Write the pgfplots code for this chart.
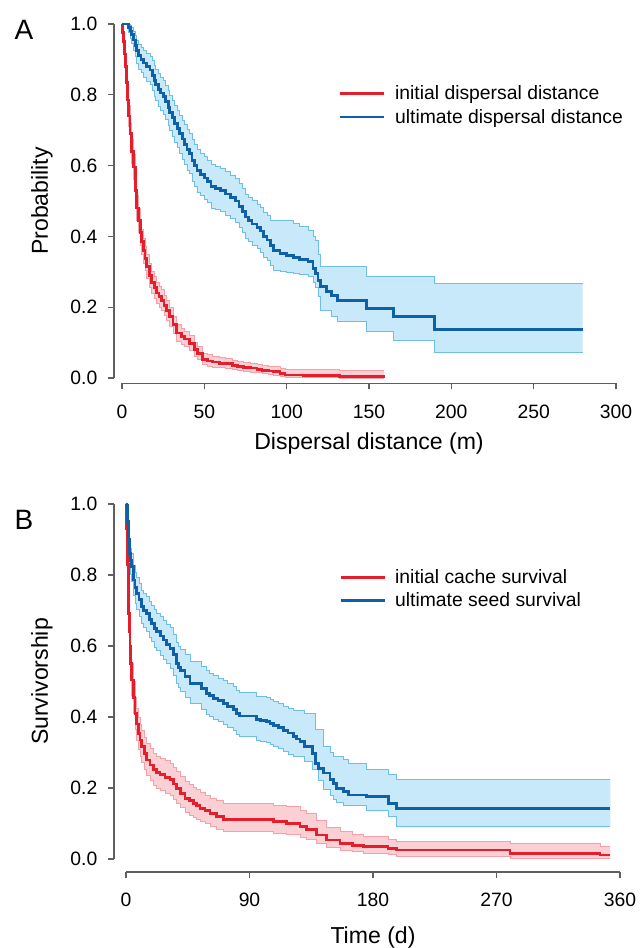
\documentclass[border=0pt]{standalone}
\usepackage{fontspec}
\setmainfont{Liberation Sans}
\usepackage{pgfplots}
\pgfplotsset{compat=1.18}
\usepackage{pgfplotstable}
\usepgfplotslibrary{fillbetween}

\definecolor{kmred}{RGB}{228,30,43}
\definecolor{kmredfill}{RGB}{250,208,213}
\definecolor{kmrededge}{RGB}{246,160,170}
\definecolor{kmblue}{RGB}{16,96,168}
\definecolor{kmbluefill}{RGB}{200,233,249}
\definecolor{kmblueedge}{RGB}{110,190,230}
\definecolor{axgray}{RGB}{95,95,95}

% panel A: initial dispersal distance
\pgfplotstableread{
x y lo hi
0 1.000 1.000 1.000
0.5 0.975 0.960 0.990
1 0.950 0.930 0.965
1.5 0.915 0.890 0.935
2 0.880 0.855 0.905
2.5 0.835 0.805 0.860
3.2 0.785 0.755 0.815
4 0.740 0.710 0.770
4.9 0.690 0.655 0.720
5.8 0.640 0.605 0.675
6.9 0.596 0.560 0.632
8 0.530 0.495 0.566
9 0.480 0.445 0.516
10 0.445 0.410 0.480
11 0.410 0.375 0.445
12 0.385 0.350 0.420
13 0.360 0.325 0.395
14 0.337 0.303 0.372
15 0.314 0.280 0.348
16.5 0.290 0.257 0.323
18 0.270 0.238 0.302
19.5 0.255 0.224 0.286
21 0.240 0.210 0.270
22.5 0.230 0.200 0.260
24 0.220 0.190 0.250
25.5 0.205 0.176 0.234
27 0.190 0.162 0.218
29 0.173 0.146 0.200
31 0.150 0.125 0.175
33 0.127 0.104 0.150
36 0.118 0.096 0.141
38 0.110 0.089 0.132
41 0.098 0.078 0.119
44 0.080 0.062 0.100
46 0.070 0.053 0.089
49 0.052 0.037 0.070
52 0.048 0.034 0.066
55 0.045 0.031 0.062
59 0.042 0.029 0.058
63 0.040 0.027 0.055
67 0.036 0.024 0.051
70 0.033 0.021 0.048
74 0.030 0.019 0.044
78 0.028 0.017 0.042
82 0.025 0.015 0.039
85 0.022 0.012 0.036
89 0.020 0.010 0.034
92 0.018 0.008 0.032
96 0.013 0.005 0.028
99 0.0085 0.003 0.025
110 0.007 0.002 0.024
120 0.006 0.001 0.023
132 0.004 0.000 0.022
159 0.002 0.000 0.022
}\redA

% panel A: ultimate dispersal distance
\pgfplotstableread{
x y lo hi
0 1.000 1.000 1.000
3.8 0.990 0.975 1.000
5 0.980 0.960 0.995
6 0.970 0.945 0.990
7 0.955 0.925 0.980
8 0.940 0.908 0.968
8.9 0.925 0.890 0.955
10 0.910 0.873 0.943
11.5 0.900 0.862 0.935
13 0.890 0.850 0.926
15 0.880 0.839 0.918
17 0.870 0.828 0.909
18.5 0.855 0.811 0.896
19.5 0.840 0.795 0.882
20.5 0.830 0.784 0.873
22 0.815 0.768 0.859
23.5 0.805 0.757 0.850
25 0.795 0.746 0.841
26.5 0.780 0.730 0.827
28 0.765 0.714 0.813
29 0.750 0.698 0.799
30.5 0.735 0.682 0.785
32 0.720 0.666 0.771
33.5 0.705 0.650 0.757
35 0.690 0.634 0.743
36.5 0.675 0.618 0.729
38 0.660 0.603 0.715
39.5 0.645 0.587 0.701
41 0.635 0.577 0.692
42.5 0.615 0.556 0.673
44 0.600 0.541 0.659
45.5 0.585 0.525 0.645
47.5 0.575 0.515 0.635
50 0.565 0.505 0.626
52 0.555 0.495 0.616
54 0.540 0.480 0.602
57 0.535 0.475 0.597
60 0.530 0.470 0.592
63 0.520 0.460 0.583
66 0.510 0.450 0.573
69 0.500 0.440 0.564
71 0.485 0.425 0.550
73 0.470 0.410 0.535
75 0.455 0.395 0.520
77 0.445 0.385 0.511
79 0.435 0.375 0.501
82 0.425 0.365 0.491
84 0.415 0.356 0.482
86 0.400 0.341 0.468
88 0.390 0.331 0.458
90 0.375 0.317 0.446
92 0.360 0.303 0.446
96 0.352 0.300 0.446
100 0.347 0.298 0.446
104 0.340 0.296 0.436
108 0.335 0.292 0.427
113 0.330 0.286 0.418
116 0.310 0.270 0.400
117.5 0.295 0.255 0.390
119 0.275 0.230 0.350
120.5 0.258 0.192 0.314
124 0.245 0.192 0.314
127 0.234 0.175 0.314
131 0.220 0.159 0.314
148.6 0.197 0.131 0.286
164.8 0.173 0.107 0.286
190 0.1375 0.0715 0.267
279.8 0.1375 0.0715 0.267
}\blueA

% panel B: initial cache survival
\pgfplotstableread{
x y lo hi
0 1.000 1.000 1.000
0.5 0.930 0.900 0.955
1 0.830 0.790 0.865
1.7 0.692 0.650 0.735
2.3 0.640 0.595 0.685
2.9 0.598 0.553 0.643
3.5 0.550 0.505 0.595
4.1 0.504 0.460 0.550
5.3 0.455 0.410 0.500
6.6 0.410 0.365 0.455
7.8 0.380 0.335 0.425
9 0.354 0.310 0.400
10.2 0.335 0.290 0.380
11.4 0.316 0.272 0.362
13.3 0.297 0.253 0.343
15.1 0.279 0.235 0.325
17.5 0.265 0.220 0.312
19.9 0.251 0.207 0.298
22.3 0.244 0.200 0.290
24.8 0.237 0.193 0.284
28.4 0.230 0.186 0.277
32 0.223 0.180 0.270
34.5 0.211 0.168 0.258
36.9 0.199 0.157 0.246
40 0.185 0.144 0.232
43 0.171 0.131 0.218
46 0.164 0.124 0.210
49 0.157 0.118 0.202
51.5 0.150 0.111 0.195
53.9 0.143 0.105 0.188
57.5 0.136 0.099 0.180
61.2 0.129 0.092 0.172
66 0.120 0.084 0.164
70.9 0.112 0.078 0.156
102.5 0.112 0.078 0.156
107.4 0.105 0.073 0.152
117 0.101 0.070 0.148
126.8 0.091 0.061 0.138
131.7 0.082 0.054 0.128
139 0.0676 0.043 0.110
146.2 0.0535 0.032 0.090
156 0.044 0.025 0.077
165 0.038 0.020 0.068
173 0.035 0.017 0.063
191 0.030 0.012 0.054
197.2 0.0254 0.0066 0.049
279.8 0.016 0.002 0.044
345.4 0.0113 0.002 0.035
353 0.0113 0.002 0.035
}\redB

% panel B: ultimate seed survival
\pgfplotstableread{
x y lo hi
0 1.000 1.000 1.000
0.5 0.997 0.990 1.000
1 0.950 0.925 0.972
1.7 0.900 0.868 0.930
2.5 0.860 0.824 0.893
3.3 0.840 0.802 0.876
4.1 0.823 0.783 0.861
5.3 0.786 0.743 0.827
6.5 0.765 0.720 0.808
7.8 0.748 0.702 0.792
9.5 0.730 0.683 0.775
11.4 0.711 0.663 0.758
13 0.700 0.651 0.748
15.1 0.692 0.642 0.741
17 0.675 0.624 0.725
18.7 0.664 0.612 0.715
20.5 0.650 0.597 0.702
22.3 0.640 0.587 0.693
25 0.628 0.574 0.682
27.2 0.617 0.562 0.672
29.5 0.605 0.550 0.661
32 0.594 0.538 0.651
34.5 0.575 0.518 0.633
36.9 0.551 0.494 0.610
38.5 0.540 0.483 0.600
40 0.530 0.472 0.590
43 0.514 0.456 0.575
46.6 0.495 0.437 0.557
55 0.480 0.421 0.543
58.8 0.467 0.408 0.530
61 0.460 0.401 0.523
63.6 0.453 0.394 0.517
67 0.446 0.387 0.510
70.9 0.439 0.380 0.504
74 0.430 0.371 0.495
78.2 0.420 0.361 0.486
80.5 0.410 0.351 0.476
83 0.403 0.344 0.470
95.2 0.392 0.333 0.459
98 0.390 0.331 0.457
102.5 0.387 0.328 0.454
105 0.382 0.323 0.449
107.4 0.377 0.318 0.444
111 0.370 0.311 0.438
114.6 0.363 0.304 0.431
118 0.355 0.296 0.424
121.9 0.345 0.288 0.419
124.5 0.338 0.288 0.419
126.8 0.331 0.288 0.419
130 0.316 0.275 0.411
136 0.298 0.251 0.411
138 0.270 0.251 0.364
140 0.255 0.220 0.364
143.8 0.242 0.195 0.316
148.6 0.223 0.180 0.300
151 0.213 0.167 0.288
153.5 0.199 0.160 0.288
158.3 0.190 0.152 0.280
162 0.180 0.152 0.270
175.4 0.176 0.138 0.251
191.1 0.157 0.119 0.237
197.2 0.143 0.091 0.223
353 0.143 0.091 0.223
}\blueB

\pgfplotsset{
  kmaxis/.style={
    scale only axis, width=370.5pt,
    axis x line*=bottom, axis y line*=left,
    axis line style={axgray, line width=0.9pt, -},
    tick style={axgray, line width=0.9pt},
    tick align=outside, major tick length=4.5pt,
    ymin=0, ymax=1, ytick={0,0.2,0.4,0.6,0.8,1},
    y tick label style={/pgf/number format/fixed, /pgf/number format/fixed zerofill,
      /pgf/number format/precision=1, xshift=-4.5pt},
    x tick label style={yshift=-8pt},
    /pgf/number format/assume math mode=true,
    tick label style={font=\fontsize{14.5}{17}\selectfont, text=black},
    label style={font=\fontsize{17.3}{20}\selectfont},
    legend style={draw=none, fill=none, inner sep=0pt, row sep=1.5pt,
      font=\fontsize{14.5}{17}\selectfont, anchor=north west,
      /tikz/every odd column/.append style={column sep=5pt}},
    legend cell align=left,
    legend image code/.code={\draw[#1, line width=2pt] (0pt,0pt) -- (33pt,0pt);},
    clip=false,
  },
  band/.style={const plot, draw=#1, line width=0.6pt, forget plot},
  km/.style={const plot, draw=#1, line width=2.1pt, no marks},
}

\begin{document}
\begin{tikzpicture}

\begin{axis}[kmaxis,
  at={(91.5pt,427.5pt)}, anchor=south west, height=265.5pt,
  xmin=0, xmax=300, xtick={0,50,...,300},
  axis x line shift=4.1pt, axis y line shift=6pt,
  xlabel={Dispersal distance (m)}, ylabel={Probability},
  xlabel style={at={(axis description cs:0.5,-0.184)}, anchor=center},
  ylabel style={at={(axis description cs:-0.162,0.5)}, anchor=center},
  legend style={at={(axis description cs:0.439,0.834)}},
]
\addplot[draw=none, name path=rAlo, const plot, forget plot] table[x=x, y=lo] {\redA};
\addplot[draw=none, name path=rAhi, const plot, forget plot] table[x=x, y=hi] {\redA};
\addplot[kmredfill, forget plot] fill between[of=rAhi and rAlo];
\addplot[draw=none, name path=bAlo, const plot, forget plot] table[x=x, y=lo] {\blueA};
\addplot[draw=none, name path=bAhi, const plot, forget plot] table[x=x, y=hi] {\blueA};
\addplot[kmbluefill, forget plot] fill between[of=bAhi and bAlo];
\addplot[band=kmrededge] table[x=x, y=lo] {\redA};
\addplot[band=kmrededge] table[x=x, y=hi] {\redA};
\addplot[band=kmblueedge] table[x=x, y=lo] {\blueA};
\addplot[band=kmblueedge] table[x=x, y=hi] {\blueA};
\addplot[km=kmred] table[x=x, y=y] {\redA};
\addplot[km=kmblue] table[x=x, y=y] {\blueA};
\legend{initial dispersal distance, ultimate dispersal distance}
\end{axis}

\begin{axis}[kmaxis,
  at={(94.5pt,66.75pt)}, anchor=south west, height=266.25pt,
  xmin=0, xmax=360, xtick={0,90,180,270,360},
  axis x line shift=9.75pt, axis y line shift=9pt,
  xlabel={Time (d)}, ylabel={Survivorship},
  xlabel style={at={(axis description cs:0.5,-0.22)}, anchor=center},
  ylabel style={at={(axis description cs:-0.17,0.5)}, anchor=center},
  legend style={at={(axis description cs:0.431,0.824)}},
]
\addplot[draw=none, name path=rBlo, const plot, forget plot] table[x=x, y=lo] {\redB};
\addplot[draw=none, name path=rBhi, const plot, forget plot] table[x=x, y=hi] {\redB};
\addplot[kmredfill, forget plot] fill between[of=rBhi and rBlo];
\addplot[draw=none, name path=bBlo, const plot, forget plot] table[x=x, y=lo] {\blueB};
\addplot[draw=none, name path=bBhi, const plot, forget plot] table[x=x, y=hi] {\blueB};
\addplot[kmbluefill, forget plot] fill between[of=bBhi and bBlo];
\addplot[band=kmrededge] table[x=x, y=lo] {\redB};
\addplot[band=kmrededge] table[x=x, y=hi] {\redB};
\addplot[band=kmblueedge] table[x=x, y=lo] {\blueB};
\addplot[band=kmblueedge] table[x=x, y=hi] {\blueB};
\addplot[km=kmred] table[x=x, y=y] {\redB};
\addplot[km=kmblue] table[x=x, y=y] {\blueB};
\legend{initial cache survival, ultimate seed survival}
\end{axis}

\node[font=\fontsize{21}{24}\selectfont] at (18pt,688.5pt) {A};
\node[font=\fontsize{21}{24}\selectfont] at (18pt,321pt) {B};
\pgfresetboundingbox
\useasboundingbox (0,0) rectangle (480pt,711pt);
\end{tikzpicture}
\end{document}
